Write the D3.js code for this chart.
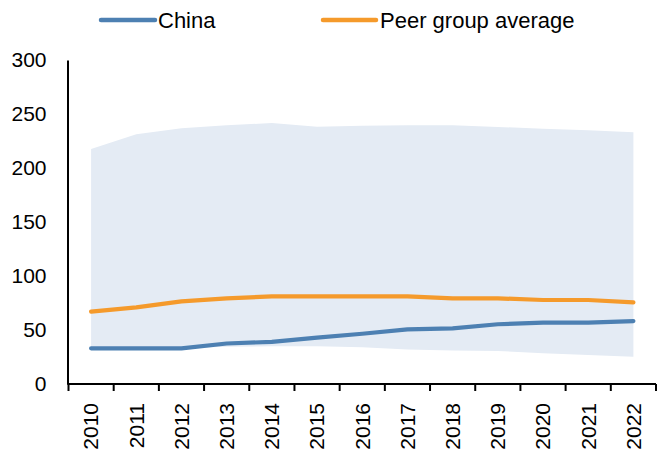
<!DOCTYPE html>
<html>
<head>
<meta charset="utf-8">
<script src="https://cdn.jsdelivr.net/npm/d3@7"></script>
<style>
  html, body { margin: 0; padding: 0; background: #fff; }
  svg { display: block; font-family: "Liberation Sans", Arial, sans-serif; }
</style>
</head>
<body>
<svg id="chart" width="657" height="453"></svg>
<script>
const years = ["2010","2011","2012","2013","2014","2015","2016","2017","2018","2019","2020","2021","2022"];
const china = [33, 33, 33, 37.5, 39, 43, 46.5, 50.5, 51.5, 55.3, 56.8, 56.8, 58.3];
const peerAvg = [67, 71, 76.5, 79.3, 81.2, 81.2, 81.2, 81.2, 79.3, 79.3, 77.8, 77.8, 75.6];
const peerMax = [217.6, 231.2, 236.7, 239.5, 241.7, 238.3, 239.2, 239.5, 239.5, 238, 236.4, 234.9, 233];
const peerMin = [33, 33, 33, 34.5, 35, 35, 34, 32, 31, 30.6, 28.4, 26.9, 25.3];
const yTicks = [0, 50, 100, 150, 200, 250, 300];
const seriesNames = ["China", "Peer group average"];

const colBlue = "#4d80b2", colOrange = "#f59a2b", colBand = "#e4ebf4";

const svg = d3.select("#chart");
const x = d3.scaleBand().domain(years).range([68.5, 656]);
const y = d3.scaleLinear().domain([0, 300]).range([384, 60]);
const cx = d => x(d) + x.bandwidth() / 2;

// range band
const rows = years.map((yr, i) => ({ yr, lo: peerMin[i], hi: peerMax[i], c: china[i], p: peerAvg[i] }));
svg.append("path")
  .datum(rows)
  .attr("fill", colBand)
  .attr("d", d3.area().x(d => cx(d.yr)).y0(d => y(d.lo)).y1(d => y(d.hi)));

// lines
const line = key => d3.line().x(d => cx(d.yr)).y(d => y(d[key]));
svg.append("path").datum(rows)
  .attr("fill", "none").attr("stroke", colOrange).attr("stroke-width", 4.2)
  .attr("stroke-linecap", "round").attr("stroke-linejoin", "round")
  .attr("d", line("p"));
svg.append("path").datum(rows)
  .attr("fill", "none").attr("stroke", colBlue).attr("stroke-width", 4.2)
  .attr("stroke-linecap", "round").attr("stroke-linejoin", "round")
  .attr("d", line("c"));

// y axis
const gy = svg.append("g").attr("transform", "translate(67.5,0)")
  .call(d3.axisLeft(y).tickValues(yTicks).tickSize(0).tickSizeOuter(0).tickPadding(21));
gy.select(".domain").attr("stroke", "#000").attr("stroke-width", 2);
gy.selectAll("text").attr("font-size", 21).attr("fill", "#000")
  .attr("font-family", "Liberation Sans, Arial, sans-serif");

// x axis
const gx = svg.append("g").attr("transform", "translate(0,384)")
  .call(d3.axisBottom(x).tickSize(0).tickSizeOuter(0));
gx.select(".domain").remove();
gx.selectAll(".tick text")
  .attr("transform", "rotate(-90)")
  .attr("x", -19).attr("y", 0).attr("dy", "0.35em")
  .attr("text-anchor", "end")
  .attr("font-size", 21).attr("fill", "#000")
  .attr("font-family", "Liberation Sans, Arial, sans-serif");
gx.append("line").attr("x1", x.range()[0] - 1).attr("x2", x.range()[1])
  .attr("y1", 0).attr("y2", 0).attr("stroke", "#000").attr("stroke-width", 2);
const boundaries = years.map(d => x(d)).concat([x.range()[1]]);
gx.selectAll(".bt").data(boundaries).enter().append("line")
  .attr("x1", d => d).attr("x2", d => d).attr("y1", 0).attr("y2", 7)
  .attr("stroke", "#000").attr("stroke-width", 2);

// legend
const legend = [
  { name: seriesNames[0], color: colBlue, x0: 101, x1: 155, tx: 158 },
  { name: seriesNames[1], color: colOrange, x0: 323, x1: 376, tx: 380 }
];
const lg = svg.append("g");
legend.forEach(l => {
  lg.append("line").attr("x1", l.x0).attr("x2", l.x1).attr("y1", 20).attr("y2", 20)
    .attr("stroke", l.color).attr("stroke-width", 4.5).attr("stroke-linecap", "round");
  lg.append("text").attr("x", l.tx).attr("y", 27.5).attr("font-size", 22).attr("fill", "#000")
    .text(l.name);
});
</script>
</body>
</html>
